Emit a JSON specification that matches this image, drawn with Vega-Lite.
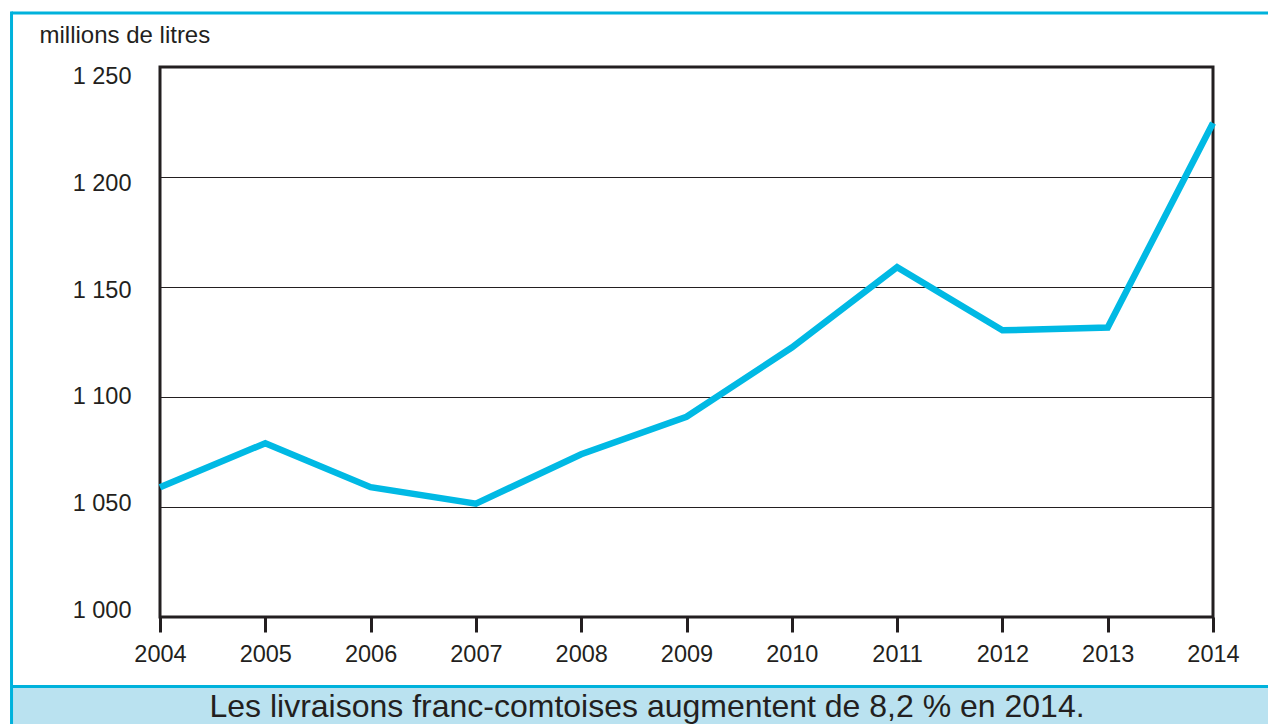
{
  "$schema": "https://vega.github.io/schema/vega-lite/v6.json",
  "width": 1053,
  "height": 550,
  "autosize": {"type": "none"},
  "padding": {"left": 160, "top": 67, "right": 55, "bottom": 107},
  "background": "white",
  "config": {
    "locale": {"number": {"decimal": ",", "thousands": " ", "grouping": [3], "currency": ["", " €"]}},
    "font": "Liberation Sans",
    "view": {"stroke": "#231f20", "strokeWidth": 3},
    "axis": {
      "labelFont": "Liberation Sans",
      "labelColor": "#231f20",
      "labelFontSize": 23.5,
      "labelFlush": false,
      "titleFont": "Liberation Sans",
      "titleColor": "#231f20",
      "titleFontWeight": "normal",
      "titleFontSize": 24
    },
    "axisX": {
      "domain": false,
      "grid": false,
      "ticks": true,
      "tickSize": 15,
      "tickWidth": 3,
      "tickColor": "#231f20",
      "labelPadding": 10,
      "labelAngle": 0
    },
    "axisY": {
      "domain": false,
      "ticks": false,
      "grid": true,
      "gridColor": "#231f20",
      "gridWidth": 1.2,
      "gridOpacity": 1,
      "labelPadding": 29,
      "labelBaseline": "middle",
      "titleAngle": 0,
      "titleAlign": "left",
      "titleBaseline": "middle",
      "titleX": -121,
      "titleY": -32
    }
  },
  "layer": [
    {
      "data": {
        "values": [
          {"year": 2004, "value": 1059},
          {"year": 2005, "value": 1079},
          {"year": 2006, "value": 1059},
          {"year": 2007, "value": 1051.5},
          {"year": 2008, "value": 1074},
          {"year": 2009, "value": 1091},
          {"year": 2010, "value": 1122.5},
          {"year": 2011, "value": 1159},
          {"year": 2012, "value": 1130.3},
          {"year": 2013, "value": 1131.6},
          {"year": 2014, "value": 1224.5}
        ]
      },
      "mark": {"type": "line", "color": "#00b9e4", "strokeWidth": 6.5, "strokeJoin": "miter", "strokeCap": "butt", "clip": false},
      "encoding": {
        "x": {
          "field": "year", "type": "quantitative",
          "scale": {"domain": [2004, 2014], "nice": false, "zero": false},
          "axis": {"values": [2004, 2005, 2006, 2007, 2008, 2009, 2010, 2011, 2012, 2013, 2014], "format": "d", "title": null}
        },
        "y": {
          "field": "value", "type": "quantitative",
          "scale": {"domain": [1000, 1250], "nice": false, "zero": false},
          "axis": {
            "values": [1000, 1050, 1100, 1150, 1200, 1250],
            "format": ",d",
            "title": "millions de litres",
            "labelOffset": {
              "condition": [
                {"test": "datum.value == 1250", "value": 9},
                {"test": "datum.value == 1200", "value": 6},
                {"test": "datum.value == 1150", "value": 3},
                {"test": "datum.value == 1100", "value": -1},
                {"test": "datum.value == 1050", "value": -4},
                {"test": "datum.value == 1000", "value": -7}
              ],
              "value": 0
            }
          }
        }
      }
    },
    {
      "data": {"values": [{}]},
      "mark": {"type": "rect", "color": "#bae2f0", "clip": false},
      "encoding": {
        "x": {"datum": 2002.59, "type": "quantitative", "title": null},
        "x2": {"datum": 2014.8},
        "y": {"datum": 967.8, "type": "quantitative", "title": "millions de litres"},
        "y2": {"datum": 948}
      }
    },
    {
      "data": {"values": [{}]},
      "mark": {"type": "rule", "color": "#00b2dc", "strokeWidth": 3, "clip": false},
      "encoding": {
        "x": {"datum": 2002.59, "type": "quantitative", "title": null},
        "x2": {"datum": 2014.8},
        "y": {"datum": 968.4, "type": "quantitative", "title": "millions de litres"}
      }
    },
    {
      "data": {"values": [{}]},
      "mark": {"type": "rule", "color": "#00b2dc", "strokeWidth": 3, "clip": false},
      "encoding": {
        "x": {"datum": 2002.59, "type": "quantitative", "title": null},
        "x2": {"datum": 2014.8},
        "y": {"datum": 1274.5, "type": "quantitative", "title": "millions de litres"}
      }
    },
    {
      "data": {"values": [{}]},
      "mark": {"type": "rule", "color": "#00b2dc", "strokeWidth": 3, "clip": false},
      "encoding": {
        "x": {"datum": 2002.59, "type": "quantitative", "title": null},
        "y": {"datum": 1275.2, "type": "quantitative", "title": "millions de litres"},
        "y2": {"datum": 948}
      }
    },
    {
      "data": {"values": [{"caption": "Les livraisons franc-comtoises augmentent de 8,2 % en 2014."}]},
      "mark": {"type": "text", "font": "Liberation Sans", "fontSize": 32, "color": "#231f20", "align": "center", "baseline": "middle", "clip": false},
      "encoding": {
        "x": {"datum": 2008.625, "type": "quantitative", "title": null},
        "y": {"datum": 959.1, "type": "quantitative", "title": "millions de litres"},
        "text": {"field": "caption"}
      }
    }
  ]
}
